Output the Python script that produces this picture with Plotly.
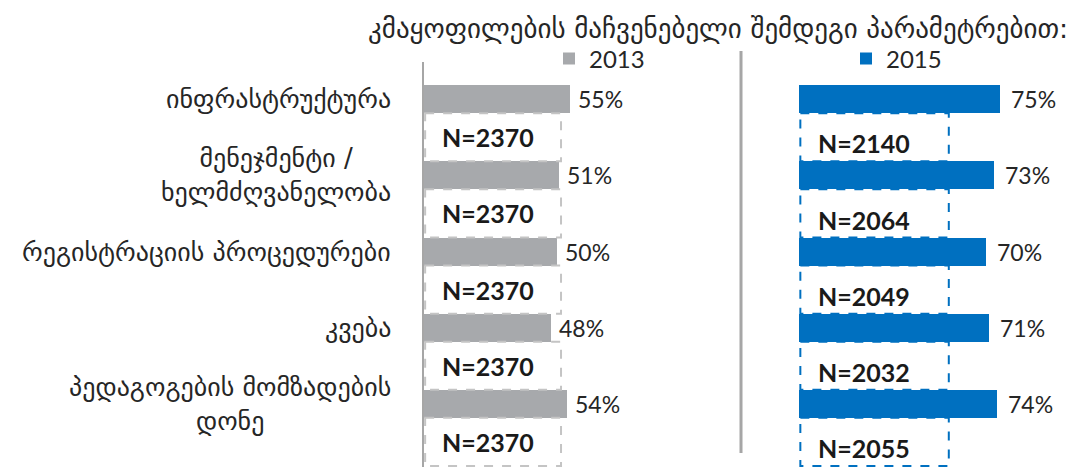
import plotly.graph_objects as go

categories = ["ინფრასტრუქტურა", "მენეჯმენტი /<br>ხელმძღვანელობა", "რეგისტრაციის პროცედურები",
              "კვება", "პედაგოგების მომზადების<br>დონე"]
values_2013 = [55, 51, 50, 48, 54]
values_2015 = [75, 73, 70, 71, 74]
n_2013 = [2370, 2370, 2370, 2370, 2370]
n_2015 = [2140, 2064, 2049, 2032, 2055]
title_text = "კმაყოფილების მაჩვენებელი შემდეგი პარამეტრებით:"

W, H = 1072, 467
GRAY = "#a7a9ac"
BLUE = "#0070c0"
TXT = "#262626"
NUMFONT = "Lato, Open Sans, sans-serif"
GEOFONT = "DejaVu Sans"
PX_PER_UNIT = 2.675
BAR_W = 0.368
pos = list(range(len(categories)))

fig = go.Figure()
fig.add_trace(go.Bar(y=pos, x=values_2013, orientation="h", width=BAR_W, marker=dict(color=GRAY, line=dict(width=0)),
                     name="2013", xaxis="x", yaxis="y", legend="legend", showlegend=True, hoverinfo="skip"))
fig.add_trace(go.Bar(y=pos, x=values_2015, orientation="h", width=BAR_W, marker=dict(color=BLUE, line=dict(width=0)),
                     name="2015", xaxis="x2", yaxis="y", legend="legend2", showlegend=True, hoverinfo="skip"))

left0, left1 = 423 / W, 740 / W
right0, right1 = 799 / W, 1.0
y_top = -BAR_W / 2 - 85 / 76
y_bot = 4 + 1 - BAR_W / 2 + 1 / 76

shapes = []
annotations = []
box_w_left = 51.6
box_w_right = 56.0
for k in pos:
    b0 = k + BAR_W / 2
    b1 = k + 1 - BAR_W / 2
    shapes.append(dict(type="rect", xref="x", yref="y", x0=0.8, x1=box_w_left, y0=b0, y1=b1,
                       line=dict(color="#c4c4c4", width=2, dash="dash"), fillcolor="rgba(0,0,0,0)", layer="above"))
    shapes.append(dict(type="rect", xref="x2", yref="y", x0=0.5, x1=box_w_right, y0=b0, y1=b1,
                       line=dict(color=BLUE, width=2, dash="dash"), fillcolor="rgba(0,0,0,0)", layer="above"))
    annotations.append(dict(xref="x", yref="y", x=0, y=k + 0.5, xanchor="left", yanchor="middle", xshift=17,
                            text=f"<b>N={n_2013[k]}</b>", showarrow=False,
                            font=dict(family=NUMFONT, size=25, color="#1a1a1a")))
    annotations.append(dict(xref="x2", yref="y", x=0, y=k + 0.58, xanchor="left", yanchor="middle", xshift=17,
                            text=f"<b>N={n_2015[k]}</b>", showarrow=False,
                            font=dict(family=NUMFONT, size=25, color="#1a1a1a")))
    annotations.append(dict(xref="x", yref="y", x=values_2013[k], y=k, xanchor="left", yanchor="middle", xshift=6,
                            text=f"{values_2013[k]}%", showarrow=False,
                            font=dict(family=NUMFONT, size=23, color=TXT)))
    annotations.append(dict(xref="x2", yref="y", x=values_2015[k], y=k, xanchor="left", yanchor="middle", xshift=9,
                            text=f"{values_2015[k]}%", showarrow=False,
                            font=dict(family=NUMFONT, size=23, color=TXT)))
    annotations.append(dict(xref="paper", yref="y", x=393 / W, y=k, xanchor="right", yanchor="middle",
                            text=categories[k], showarrow=False, align="center",
                            font=dict(family=GEOFONT, size=26, color=TXT)))

annotations.append(dict(xref="paper", yref="paper", x=1070 / W, y=1 - 28 / H, xanchor="right", yanchor="middle",
                        text=title_text, showarrow=False,
                        font=dict(family=GEOFONT, size=27, color=TXT)))

shapes.append(dict(type="line", xref="paper", yref="paper", x0=423 / W, x1=423 / W, y0=1 - 62 / H, y1=0,
                   line=dict(color="#a6a6a6", width=2)))
shapes.append(dict(type="line", xref="paper", yref="paper", x0=741 / W, x1=741 / W, y0=1 - 51 / H, y1=1 - 453 / H,
                   line=dict(color="#a6a6a6", width=3)))

fig.update_layout(
    width=W, height=H, margin=dict(l=0, r=0, t=0, b=0),
    plot_bgcolor="white", paper_bgcolor="white", barmode="overlay", bargap=0,
    xaxis=dict(domain=[left0, left1], range=[0, (740 - 423) / PX_PER_UNIT], visible=False, fixedrange=True),
    xaxis2=dict(domain=[right0, right1], range=[0, (W - 799) / PX_PER_UNIT], visible=False, fixedrange=True),
    yaxis=dict(range=[y_bot, y_top], visible=False, fixedrange=True),
    legend=dict(x=549 / W, y=1 - 59 / H, xanchor="left", yanchor="middle", bgcolor="rgba(0,0,0,0)",
                font=dict(family=NUMFONT, size=24, color=TXT)),
    legend2=dict(x=846 / W, y=1 - 59 / H, xanchor="left", yanchor="middle", bgcolor="rgba(0,0,0,0)",
                 font=dict(family=NUMFONT, size=24, color=TXT)),
    shapes=shapes, annotations=annotations,
)
fig.write_html("out.html", config={"displayModeBar": False},
               post_script="document.body.style.margin='0';")
